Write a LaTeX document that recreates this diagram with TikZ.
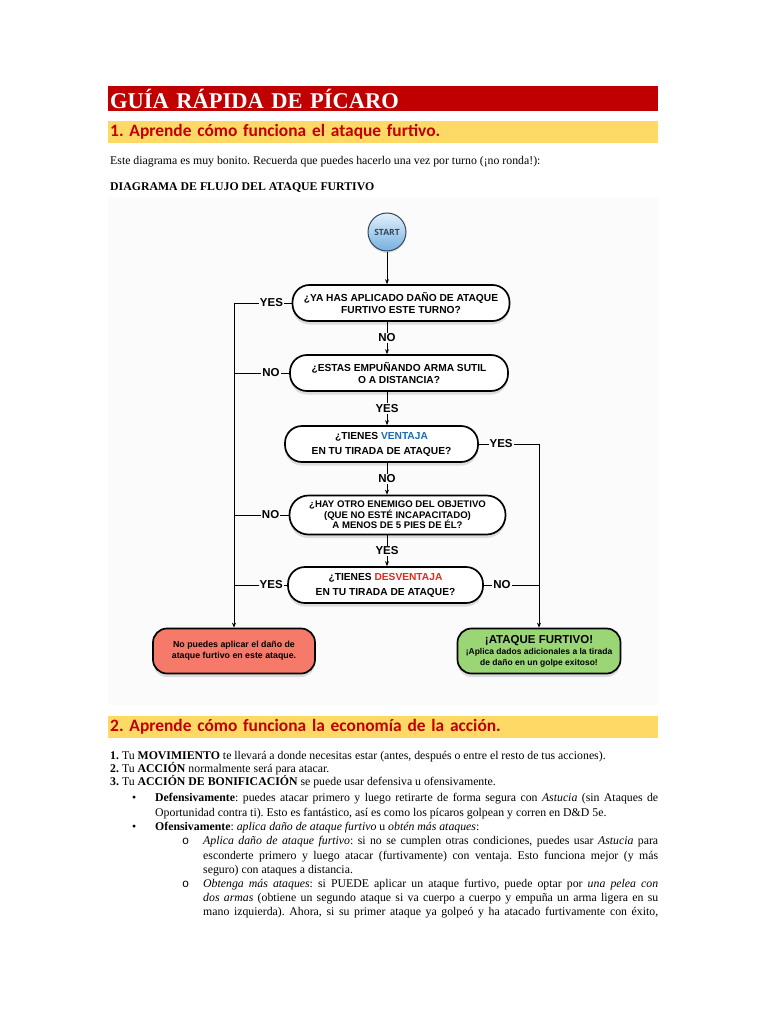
\documentclass[tikz,border=0pt]{standalone}
\usepackage{fontspec}
\setmainfont{Liberation Serif}
\newfontfamily\hdfont{Carlito}
\newfontfamily\flowfont{Liberation Sans}
\newfontfamily\startfont{Open Sans}
\newfontfamily\bulletfont{Liberation Mono}
\usepackage{xcolor}
\usetikzlibrary{arrows.meta,positioning,calc,shadows}
\frenchspacing

\definecolor{titlered}{RGB}{192,0,0}
\definecolor{hdyellow}{RGB}{255,217,102}
\definecolor{flowbg}{RGB}{251,251,251}
\definecolor{nopefill}{RGB}{246,122,106}
\definecolor{sneakfill}{RGB}{155,214,118}
\definecolor{startlight}{RGB}{226,240,251}
\definecolor{startdark}{RGB}{118,176,224}
\definecolor{startline}{RGB}{52,72,92}
\definecolor{ventblue}{RGB}{28,108,178}
\definecolor{desvred}{RGB}{232,40,28}

\begin{document}
\begin{tikzpicture}[x=1pt,y=-1pt,
  font=\fontsize{11.8}{13}\selectfont,
  body/.style={anchor=base west,inner sep=0pt},
  bar/.style={anchor=west,minimum width=550pt,text width=546pt,inner xsep=2pt,inner ysep=0pt,align=left},
  q/.style={draw,line width=1.7pt,rounded corners=17pt,fill=white,minimum height=36pt,align=center,inner sep=2pt,
    font=\flowfont\bfseries\fontsize{10.2}{12}\selectfont,
    drop shadow={opacity=.25,shadow xshift=0pt,shadow yshift=-3.5pt}},
  endbox/.style={q,rounded corners=14pt,minimum height=45pt,font=\flowfont\bfseries\fontsize{8.8}{11}\selectfont},
  lbl/.style={fill=flowbg,inner sep=1pt,font=\flowfont\bfseries\fontsize{11.5}{11}\selectfont},
  ln/.style={line width=0.9pt},
  ar/.style={ln,-{Stealth[length=5pt,width=4pt]}}
]
\useasboundingbox[fill=white] (0,0) rectangle (768,1024);

% headings
\node[bar,fill=titlered,text=white,minimum height=25pt,font=\bfseries\fontsize{22.5}{24}\selectfont] (title) at (108,98.5) {GUÍA RÁPIDA DE PÍCARO};
\node[bar,fill=hdyellow,text=titlered,minimum height=22pt,font=\hdfont\bfseries\fontsize{17.4}{18}\selectfont] (sec1) at (108,132) {1. Aprende cómo funciona el ataque furtivo.};
\node[body] (intro) at (110,165) {Este diagrama es muy bonito. Recuerda que puedes hacerlo una vez por turno (¡no ronda!):};
\node[body] (flowhd) at (110,191) {\textbf{DIAGRAMA DE FLUJO DEL ATAQUE FURTIVO}};

% flow chart
\fill[flowbg] (108,197) rectangle (658,705);
\node[circle,draw=startline,line width=1pt,minimum size=38pt,inner sep=0pt,top color=startlight,bottom color=startdark,
  font=\startfont\bfseries\fontsize{8.5}{9}\selectfont,text=startline,drop shadow={opacity=.2,shadow xshift=0pt,shadow yshift=-2pt}] (start) at (387,232) {START};
\node[q,minimum width=217pt] (q1) at (401,303) {¿YA HAS APLICADO DAÑO DE ATAQUE\\FURTIVO ESTE TURNO?};
\node[q,minimum width=218pt] (q2) at (399,373) {¿ESTAS EMPUÑANDO ARMA SUTIL\\O A DISTANCIA?};
\node[q,minimum width=193pt,font=\flowfont\bfseries\fontsize{10.2}{15}\selectfont] (q3) at (381.5,444) {¿TIENES \textcolor{ventblue}{VENTAJA}\\EN TU TIRADA DE ATAQUE?};
\node[q,minimum width=216pt,minimum height=39pt,rounded corners=19pt,font=\flowfont\bfseries\fontsize{9.6}{10.6}\selectfont] (q4) at (397.5,515) {¿HAY OTRO ENEMIGO DEL OBJETIVO\\(QUE NO ESTÉ INCAPACITADO)\\A MENOS DE 5 PIES DE ÉL?};
\node[q,minimum width=195pt,font=\flowfont\bfseries\fontsize{10.2}{15}\selectfont] (q5) at (385.5,585) {¿TIENES \textcolor{desvred}{DESVENTAJA}\\EN TU TIRADA DE ATAQUE?};
\node[endbox,fill=nopefill,minimum width=162pt] (nope) at (234,651) {No puedes aplicar el daño de\\ataque furtivo en este ataque.};
\node[endbox,fill=sneakfill,minimum width=163pt,font=\flowfont\bfseries\fontsize{8.5}{11}\selectfont] (sneak) at (539,651) {{\fontsize{11.5}{12}\selectfont ¡ATAQUE FURTIVO!}\\¡Aplica dados adicionales a la tirada\\de daño en un golpe exitoso!};

\draw[ar] (start) -- (q1.north -| start);
\draw[ar] (q1.south -| start) -- node[lbl]{NO} (q2.north -| start);
\draw[ar] (q2.south -| start) -- node[lbl]{YES} (q3.north -| start);
\draw[ar] (q3.south -| start) -- node[lbl]{NO} (q4.north -| start);
\draw[ar] (q4.south -| start) -- node[lbl]{YES} (q5.north -| start);
% left side
\draw[ln] (q1.west) -- node[lbl,pos=.35]{YES} (q1.west -| nope.north);
\draw[ar] (q1.west -| nope.north) -- (nope.north);
\draw[ln] (q2.west) -- node[lbl,pos=.33]{NO} (q2.west -| nope.north);
\draw[ln] (q4.west) -- node[lbl,pos=.33]{NO} (q4.west -| nope.north);
\draw[ln] (q5.west) -- node[lbl,pos=.3]{YES} (q5.west -| nope.north);
% right side
\draw[ln] (q3.east) -- node[lbl,pos=.37]{YES} (q3.east -| sneak.north);
\draw[ar] (q3.east -| sneak.north) -- (sneak.north);
\draw[ln] (q5.east) -- node[lbl,pos=.33]{NO} (q5.east -| sneak.north);

% section 2
\node[bar,fill=hdyellow,text=titlered,minimum height=22pt,font=\hdfont\bfseries\fontsize{17.4}{18}\selectfont] (sec2) at (108,727) {2. Aprende cómo funciona la economía de la acción.};
\node[body] (item1) at (110,759) {\textbf{1.} Tu \textbf{MOVIMIENTO} te llevará a donde necesitas estar (antes, después o entre el resto de tus acciones).};
\node[body] (item2) at (110,772) {\textbf{2.} Tu \textbf{ACCIÓN} normalmente será para atacar.};
\node[body] (item3) at (110,785) {\textbf{3.} Tu \textbf{ACCIÓN DE BONIFICACIÓN} se puede usar defensiva u ofensivamente.};
\node[body] (dot1) at (132,801) {\textbullet};
\node[body] (def1) at (155,801) {\makebox[503pt][s]{\textbf{Defensivamente}: puedes atacar primero y luego retirarte de forma segura con \textit{Astucia} (sin Ataques de}};
\node[body] (def2) at (155,816) {Oportunidad contra ti). Esto es fantástico, así es como los pícaros golpean y corren en D\&D 5e.};
\node[body] (dot2) at (132,830) {\textbullet};
\node[body] (ofe) at (155,830) {\textbf{Ofensivamente}: \textit{aplica daño de ataque furtivo} u \textit{obtén más ataques}:};
\node[body] (sub1) at (182,844.5) {\bulletfont o};
\node[body] (apl1) at (203,844.5) {\makebox[455pt][s]{\textit{Aplica daño de ataque furtivo}: si no se cumplen otras condiciones, puedes usar \textit{Astucia} para}};
\node[body] (apl2) at (203,859) {\makebox[455pt][s]{esconderte primero y luego atacar (furtivamente) con ventaja. Esto funciona mejor (y más}};
\node[body] (apl3) at (203,873) {seguro) con ataques a distancia.};
\node[body] (sub2) at (182,887) {\bulletfont o};
\node[body] (obt1) at (203,887) {\makebox[455pt][s]{\textit{Obtenga más ataques}: si PUEDE aplicar un ataque furtivo, puede optar por \textit{una pelea con}}};
\node[body] (obt2) at (203,901) {\makebox[455pt][s]{\textit{dos armas} (obtiene un segundo ataque si va cuerpo a cuerpo y empuña un arma ligera en su}};
\node[body] (obt3) at (203,915.5) {\makebox[455pt][s]{mano izquierda). Ahora, si su primer ataque ya golpeó y ha atacado furtivamente con éxito,}};
\end{tikzpicture}
\end{document}
